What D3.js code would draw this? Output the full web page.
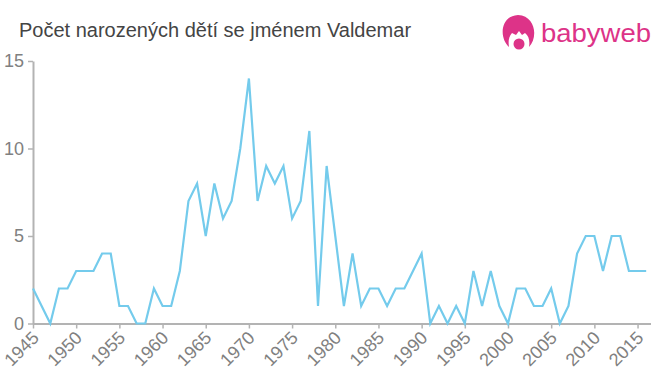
<!DOCTYPE html>
<html>
<head>
<meta charset="utf-8">
<script src="https://cdn.jsdelivr.net/npm/d3@7"></script>
<style>
html,body{margin:0;padding:0;background:#fff;}
svg{display:block;}
text{font-family:"Liberation Sans",Arial,sans-serif;}
</style>
</head>
<body>
<div id="chart"></div>
<script>
let width = 660, height = 375,
    margin = ({top: 61, right: 10, bottom: 51.5, left: 33})

const title = "Počet narozených dětí se jménem Valdemar"
const years = d3.range(1945, 2017)
const counts = [2,1,0,2,2,3,3,3,4,4,1,1,0,0,2,1,1,3,7,8,5,8,6,7,10,14,7,9,8,9,6,7,11,1,9,5,1,4,1,2,2,1,2,2,3,4,0,1,0,1,0,3,1,3,1,0,2,2,1,1,2,0,1,4,5,5,3,5,5,3,3,3]
const xTicks = [1945,1950,1955,1960,1965,1970,1975,1980,1985,1990,1995,2000,2005,2010,2015]
const yTicks = [0,5,10,15]

const svg = d3.select("#chart").append("svg")
    .attr("width", width).attr("height", height)

let x = d3.scaleLinear()
    .domain([1945, 2016.5])
    .range([margin.left, width - margin.right + 0.5])
let y = d3.scaleLinear()
    .domain([0, 15])
    .range([height - margin.bottom, margin.top])

// title
svg.append("text")
    .attr("x", 19).attr("y", 37)
    .attr("font-size", 20)
    .attr("fill", "#444")
    .text(title)

// axes
let xAxis = g => g
    .attr("transform", `translate(0,${height - margin.bottom})`)
    .call(d3.axisBottom(x).tickValues(xTicks).tickFormat(d3.format("d")).tickSize(5).tickSizeOuter(0))
    .call(g => g.select(".domain").attr("stroke", "#b3b3b3").attr("stroke-width", 2))
    .call(g => g.selectAll(".tick line").attr("stroke", "#b3b3b3").attr("stroke-width", 1.5))
    .call(g => g.selectAll(".tick text")
        .attr("font-size", 18)
        .attr("font-family", '"Liberation Sans",Arial,sans-serif')
        .attr("fill", "#808080")
        .attr("text-anchor", "end")
        .attr("x", 0).attr("y", 0).attr("dy", "0.35em")
        .attr("transform", "translate(2,11) rotate(-45)"))
let yAxis = g => g
    .attr("transform", `translate(${margin.left},0)`)
    .call(d3.axisLeft(y).tickValues(yTicks).tickSize(5).tickSizeOuter(0))
    .call(g => g.select(".domain").attr("stroke", "#b3b3b3").attr("stroke-width", 2))
    .call(g => g.selectAll(".tick line").attr("stroke", "#b3b3b3").attr("stroke-width", 1.5))
    .call(g => g.selectAll(".tick text")
        .attr("font-size", 18)
        .attr("font-family", '"Liberation Sans",Arial,sans-serif')
        .attr("fill", "#808080")
        .attr("x", -9))

svg.append("g").call(yAxis)
svg.append("g").call(xAxis)

// line
let line = d3.line().x((d, i) => x(years[i])).y(d => y(d))
svg.append("path")
    .datum(counts)
    .attr("fill", "none")
    .attr("stroke", "#74cbec")
    .attr("stroke-width", 2.2)
    .attr("stroke-linejoin", "miter")
    .attr("d", line)

// logo
const pink = "#dd3388"
const logo = svg.append("g").attr("fill", pink)
logo.append("path")
    .attr("d", "M509 47 C499 38 500 16 518 15 C536 16 538 38 529 47 C530 41 529 36 525 33 L522 35 L519 31 L516 35 L512 33 C509 36 508 41 509 47 Z")
logo.append("circle").attr("cx", 519).attr("cy", 44).attr("r", 5.5)
svg.append("text")
    .attr("x", 541).attr("y", 42)
    .attr("font-family", '"Lato",sans-serif')
    .attr("font-size", 25)
    .attr("fill", pink)
    .attr("textLength", 110)
    .attr("lengthAdjust", "spacingAndGlyphs")
    .text("babyweb")
</script>
</body>
</html>
